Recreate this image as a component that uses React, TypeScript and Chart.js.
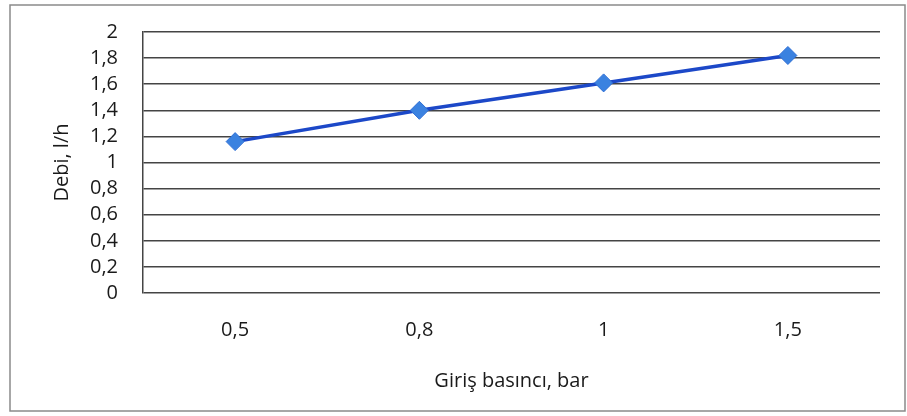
import React, { useEffect, useRef } from "react";
import { Chart, registerables } from "chart.js";

Chart.register(...registerables);

const categories = ["0,5", "0,8", "1", "1,5"];
const debiValues = [1.16, 1.4, 1.61, 1.82];
const yTitle = "Debi, l/h";
const xTitle = "Giriş basıncı, bar";

const borderPlugin = {
  id: "outerBorder",
  beforeDraw(chart: any) {
    const { ctx } = chart;
    ctx.save();
    ctx.fillStyle = "#ffffff";
    ctx.fillRect(0, 0, chart.width, chart.height);
    ctx.strokeStyle = "#8a8a8a";
    ctx.lineWidth = 1.5;
    ctx.strokeRect(10, 5, chart.width - 12, chart.height - 10);
    ctx.restore();
  },
};

const FONT = "Open Sans";

export default function App() {
  const ref = useRef<HTMLCanvasElement>(null);
  useEffect(() => {
    document.body.style.margin = "0";
    const chart = new Chart(ref.current!, {
      type: "line",
      data: {
        labels: categories,
        datasets: [
          {
            data: debiValues,
            borderColor: "#1c48c8",
            borderWidth: 3.5,
            backgroundColor: "#3b82e0",
            pointBackgroundColor: "#3b82e0",
            pointBorderColor: "#2f6fd6",
            pointStyle: "rectRot",
            pointRadius: 9,
            pointBorderWidth: 1,
            tension: 0,
          },
        ],
      },
      options: {
        animation: false,
        responsive: false,
        devicePixelRatio: 1,
        layout: { padding: { left: 40, top: 32, right: 27, bottom: 0 } },
        plugins: { legend: { display: false }, tooltip: { enabled: false } },
        scales: {
          x: {
            offset: true,
            afterFit(scale: any) {
              scale.height = 123;
              scale.paddingLeft = 0;
              scale.paddingRight = 0;
            },
            grid: { display: false, drawTicks: false },
            border: { display: false },
            ticks: {
              color: "#1a1a1a",
              font: { family: FONT, size: 20 },
              padding: 25,
              maxRotation: 0,
              autoSkip: false,
            },
            title: {
              display: true,
              text: xTitle,
              color: "#1a1a1a",
              font: { family: FONT, size: 20 },
              padding: { top: 0, bottom: 23 },
            },
          },
          y: {
            min: 0,
            max: 2,
            afterFit(scale: any) {
              scale.width = 103;
              scale.paddingTop = 0;
              scale.paddingBottom = 0;
            },
            grid: { color: "#444", lineWidth: 1.5, drawTicks: false },
            border: { display: true, color: "#444", width: 1.5 },
            ticks: {
              stepSize: 0.2,
              autoSkip: false,
              color: "#1a1a1a",
              font: { family: FONT, size: 20 },
              padding: 25,
              callback: (v: any) => String(Math.round(Number(v) * 10) / 10).replace(".", ","),
            },
            title: {
              display: true,
              text: yTitle,
              color: "#1a1a1a",
              font: { family: FONT, size: 20 },
              padding: { top: 10, bottom: 0 },
            },
          },
        },
      },
      plugins: [borderPlugin],
    });
    return () => chart.destroy();
  }, []);
  return <canvas ref={ref} width={907} height={416} style={{ display: "block" }} />;
}
